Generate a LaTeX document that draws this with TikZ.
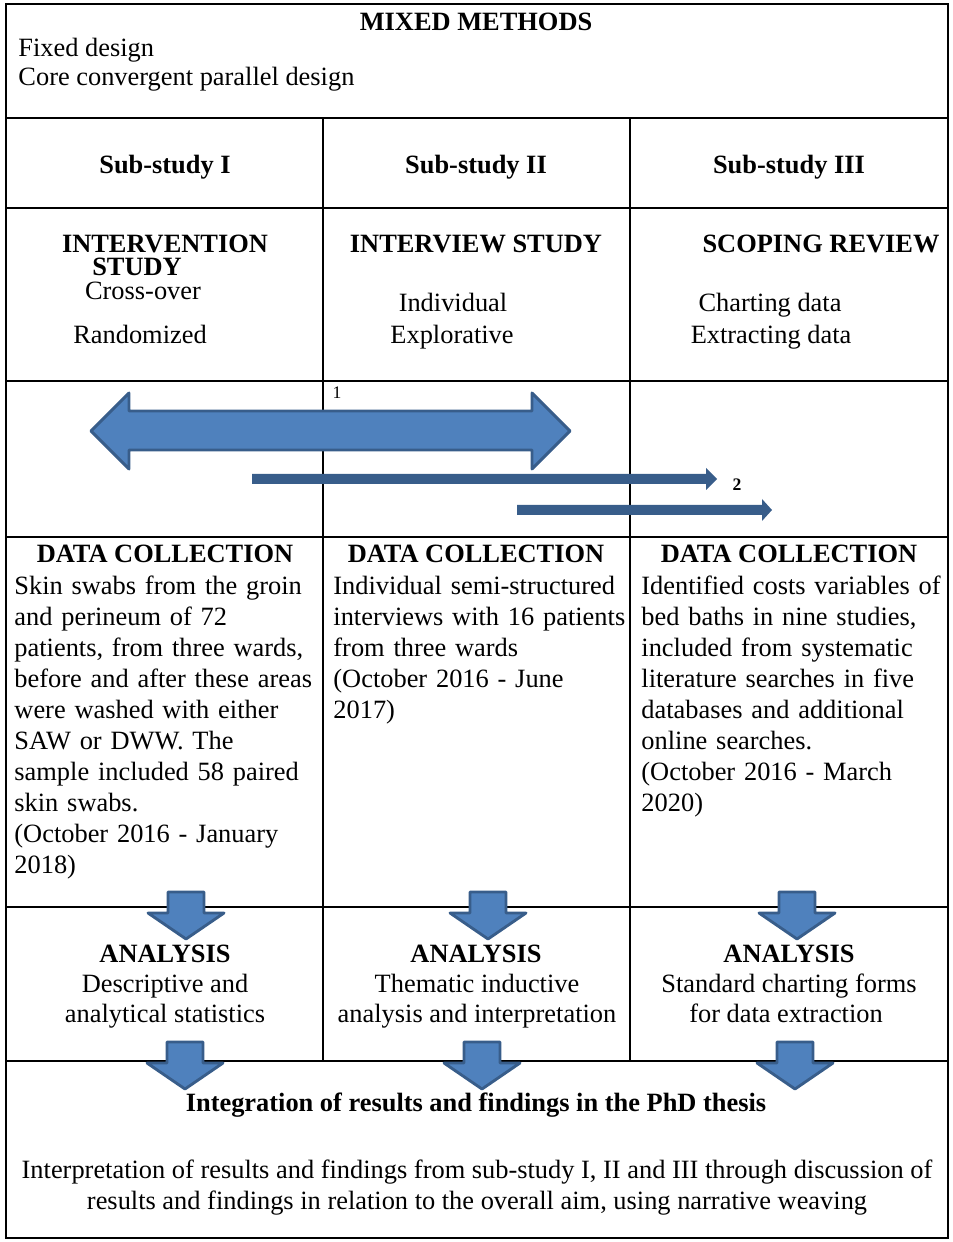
\documentclass[tikz,border=0pt]{standalone}
\usepackage{fontspec}
\setmainfont{Liberation Serif}
\definecolor{arrowfill}{HTML}{4F81BD}
\definecolor{arrowline}{HTML}{385D8A}
\begin{document}
\begin{tikzpicture}[x=0.45455pt,y=-0.45455pt,
  grid/.style={line width=1pt},
  txt/.style={inner sep=0pt, font=\fontsize{12}{14.1}\selectfont},
  bodyl/.style={txt, anchor=base west, align=left, text width=190pt},
  bodyc/.style={txt, anchor=base},
  hd/.style={inner sep=0pt, anchor=base, font=\fontsize{12}{14.1}\selectfont\bfseries},
  small/.style={inner sep=0pt, anchor=base, font=\fontsize{8}{9}\selectfont},
  blockarrow/.style={fill=arrowfill, draw=arrowline, line width=1.3pt, line join=round},
  thinarrow/.style={fill=arrowline},
  downarrow/.pic={\draw[blockarrow] (-18,0) -- (18,0) -- (18,21) -- (38,21) -- (0,47) -- (-38,21) -- (-18,21) -- cycle;}
]
\useasboundingbox (0,0) rectangle (952,1242);
% grid
\draw[grid] (6,4) rectangle (948,1238);
\draw[grid] (6,118) -- (948,118);
\draw[grid] (6,208) -- (948,208);
\draw[grid] (6,381) -- (948,381);
\draw[grid] (6,537) -- (948,537);
\draw[grid] (6,907) -- (948,907);
\draw[grid] (6,1061) -- (948,1061);
\draw[grid] (323,118) -- (323,1061);
\draw[grid] (630,118) -- (630,1061);

% top
\node[hd] (mm) at (476,31) {MIXED METHODS};
\node[txt, anchor=base west] (fixed) at (18,57) {Fixed design};
\node[txt, anchor=base west] (core) at (18,86) {Core convergent parallel design};

% headers
\node[hd] (s1) at (165,174) {Sub-study I};
\node[hd] (s2) at (476,174) {Sub-study II};
\node[hd] (s3) at (789,174) {Sub-study III};

% methods
\node[hd] (m1a) at (165,253) {INTERVENTION};
\node[hd] (m1b) at (137,276) {STUDY};
\node[bodyc] (m1c) at (143,300) {Cross-over};
\node[bodyc] (m1d) at (140,344) {Randomized};
\node[hd] (m2a) at (476,253) {INTERVIEW STUDY};
\node[bodyc] (m2b) at (453,312) {Individual};
\node[bodyc] (m2c) at (452,344) {Explorative};
\node[hd] (m3a) at (821,253) {SCOPING REVIEW};
\node[bodyc] (m3b) at (770,312) {Charting data};
\node[bodyc] (m3c) at (771,344) {Extracting data};

% timeline arrows
\coordinate (a1l) at (91,431);
\coordinate (a1r) at (570,431);
\draw[blockarrow] (a1l) -- (129,393) -- (129,411) -- (532,411) -- (532,393) -- (a1r)
  -- (532,469) -- (532,450) -- (129,450) -- (129,469) -- cycle;
\node[small] (n1) at (337,399) {1};
\coordinate (a2e) at (717,479);
\fill[thinarrow] (252,474) -- (706,474) -- (706,468) -- (a2e) -- (706,490) -- (706,484) -- (252,484) -- cycle;
\node[small, font=\fontsize{8}{9}\selectfont\bfseries] (n2) at (737,491) {2};
\coordinate (a3e) at (772,510);
\fill[thinarrow] (517,505) -- (762,505) -- (762,499) -- (a3e) -- (762,521) -- (762,515) -- (517,515) -- cycle;

% data collection
\node[hd] (d1) at (165,562) {DATA COLLECTION};
\node[hd] (d2) at (476,562) {DATA COLLECTION};
\node[hd] (d3) at (789,562) {DATA COLLECTION};
\node[bodyl] (d1t) at (14,594) {Skin swabs from the groin\\and perineum of 72\\patients, from three wards,\\before and after these areas\\were washed with either\\SAW or DWW. The\\sample included 58 paired\\skin swabs.\\(October 2016 - January\\2018)};
\node[bodyl] (d2t) at (333,594) {Individual semi-structured\\interviews with 16 patients\\from three wards\\(October 2016 - June\\2017)};
\node[bodyl] (d3t) at (641,594) {Identified costs variables of\\bed baths in nine studies,\\included from systematic\\literature searches in five\\databases and additional\\online searches.\\(October 2016 - March\\2020)};

% analysis
\node[hd] (an1) at (165,962) {ANALYSIS};
\node[hd] (an2) at (476,962) {ANALYSIS};
\node[hd] (an3) at (789,962) {ANALYSIS};
\node[bodyc] (an1a) at (165,992) {Descriptive and};
\node[bodyc] (an1b) at (165,1022) {analytical statistics};
\node[bodyc] (an2a) at (477,992) {Thematic inductive};
\node[bodyc] (an2b) at (477,1022) {analysis and interpretation};
\node[bodyc] (an3a) at (789,992) {Standard charting forms};
\node[bodyc] (an3b) at (786,1022) {for data extraction};

% down arrows
\pic at (186,892) {downarrow};
\pic at (488,892) {downarrow};
\pic at (797,892) {downarrow};
\pic at (185,1042) {downarrow};
\pic at (482,1042) {downarrow};
\pic at (795,1042) {downarrow};

% integration
\node[hd] (int) at (476,1111) {Integration of results and findings in the PhD thesis};
\node[bodyc] (i1) at (477,1178) {Interpretation of results and findings from sub-study I, II and III through discussion of};
\node[bodyc] (i2) at (477,1209) {results and findings in relation to the overall aim, using narrative weaving};
\end{tikzpicture}
\end{document}
